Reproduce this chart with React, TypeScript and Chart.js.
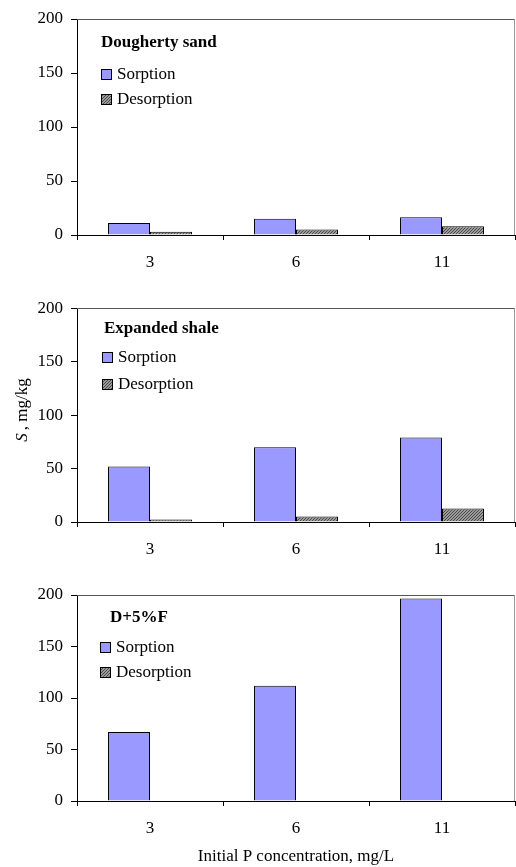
import React, { useEffect, useRef } from "react";
import { Chart, registerables } from "chart.js";

Chart.register(...registerables);

// ---- data ----
const categories = ["3", "6", "11"];
const seriesNames = ["Sorption", "Desorption"];
const panelTitles = ["Dougherty sand", "Expanded shale", "D+5%F"];
const sandSorption = [11, 15, 16.5];
const sandDesorption = [3, 5.2, 8];
const shaleSorption = [52, 70, 79];
const shaleDesorption = [2.4, 5.2, 12.6];
const mixSorption = [67, 112, 196.5];
const mixDesorption = [0, 0, 0];
const yMin = 0;
const yMax = 200;
const yStep = 50;
const yTitleItalic = "S";
const yTitleRest = ", mg/kg";
const xTitle = "Initial P concentration, mg/L";

const FONT = "'Liberation Serif', 'Times New Roman', serif";
const FS = 17;
const SORPTION_COLOR = "#9999FF";

function makeHatch(): CanvasPattern | string {
  const c = document.createElement("canvas");
  c.width = 3;
  c.height = 3;
  const g = c.getContext("2d");
  if (!g) return "#888";
  g.fillStyle = "#9a9a9a";
  g.fillRect(0, 0, 3, 3);
  g.fillStyle = "#4a4a4a";
  for (let i = 0; i < 3; i++) {
    g.fillRect(2 - i, i, 1, 1);
  }
  const p = g.createPattern(c, "repeat");
  return p || "#888";
}

type PanelSpec = {
  top: number;
  height: number;
  padTop: number;
  xAxisHeight: number;
  title: string;
  sorption: number[];
  desorption: number[];
  titleX: number;
  titleDy: number;
  boxX: number;
  rowDy: number[];
  showYTitle: boolean;
  showXTitle: boolean;
};

const panels: PanelSpec[] = [
  {
    top: 0, height: 280, padTop: 19, xAxisHeight: 45,
    title: panelTitles[0], sorption: sandSorption, desorption: sandDesorption,
    titleX: 101, titleDy: 24, boxX: 101, rowDy: [55, 80],
    showYTitle: false, showXTitle: false,
  },
  {
    top: 290, height: 280, padTop: 17, xAxisHeight: 48,
    title: panelTitles[1], sorption: shaleSorption, desorption: shaleDesorption,
    titleX: 104, titleDy: 20, boxX: 102, rowDy: [48.7, 75.3],
    showYTitle: true, showXTitle: false,
  },
  {
    top: 570, height: 297, padTop: 25, xAxisHeight: 66,
    title: panelTitles[2], sorption: mixSorption, desorption: mixDesorption,
    titleX: 110, titleDy: 22.7, boxX: 100, rowDy: [51.7, 76.7],
    showYTitle: false, showXTitle: true,
  },
];

function Panel({ spec }: { spec: PanelSpec }) {
  const ref = useRef<HTMLCanvasElement | null>(null);
  useEffect(() => {
    const canvas = ref.current;
    if (!canvas) return;
    const hatch = makeHatch();
    const fills = [SORPTION_COLOR, hatch];

    const framePlugin = {
      id: "frameAndLegend",
      afterDraw(chart: any) {
        const ctx = chart.ctx as CanvasRenderingContext2D;
        const a = chart.chartArea;
        ctx.save();
        // top & right plot border
        ctx.lineWidth = 1;
        ctx.strokeStyle = "#555";
        ctx.beginPath();
        ctx.moveTo(a.left, Math.round(a.top) + 0.5);
        ctx.lineTo(a.right, Math.round(a.top) + 0.5);
        ctx.stroke();
        ctx.strokeStyle = "#999";
        ctx.beginPath();
        ctx.moveTo(Math.round(a.right) - 0.5, a.top);
        ctx.lineTo(Math.round(a.right) - 0.5, a.bottom);
        ctx.stroke();

        // inner title
        ctx.fillStyle = "#000";
        ctx.textBaseline = "middle";
        ctx.textAlign = "left";
        ctx.font = `bold ${FS}px ${FONT}`;
        ctx.fillText(spec.title, spec.titleX, a.top + spec.titleDy);

        // inner legend
        ctx.font = `${FS}px ${FONT}`;
        chart.data.datasets.forEach((ds: any, i: number) => {
          const cy = Math.round(a.top + spec.rowDy[i]);
          const bx = spec.boxX;
          ctx.fillStyle = fills[i] as any;
          ctx.fillRect(bx, cy - 5, 11, 11);
          ctx.strokeStyle = "#000";
          ctx.strokeRect(bx + 0.5, cy - 4.5, 10, 10);
          ctx.fillStyle = "#000";
          ctx.fillText(ds.label, bx + 16, cy + 0.5);
        });

        if (spec.showYTitle) {
          ctx.save();
          ctx.translate(23, 410 - spec.top);
          ctx.rotate(-Math.PI / 2);
          ctx.font = `italic ${FS}px ${FONT}`;
          const w1 = ctx.measureText(yTitleItalic).width + 3;
          ctx.font = `${FS}px ${FONT}`;
          const w2 = ctx.measureText(yTitleRest).width;
          const start = -(w1 + w2) / 2;
          ctx.textAlign = "left";
          ctx.font = `italic ${FS}px ${FONT}`;
          ctx.fillText(yTitleItalic, start, 0);
          ctx.font = `${FS}px ${FONT}`;
          ctx.fillText(yTitleRest, start + w1, 0);
          ctx.restore();
        }
        ctx.restore();
      },
    };

    const chart = new Chart(canvas, {
      type: "bar",
      data: {
        labels: categories,
        datasets: [
          {
            label: seriesNames[0],
            data: spec.sorption,
            backgroundColor: SORPTION_COLOR,
            borderColor: "#000",
            borderWidth: 1,
            borderSkipped: "start",
            barPercentage: 1,
            categoryPercentage: 0.575,
          },
          {
            label: seriesNames[1],
            data: spec.desorption,
            backgroundColor: hatch as any,
            borderColor: "#000",
            borderWidth: 1,
            borderSkipped: "start",
            barPercentage: 1,
            categoryPercentage: 0.575,
          },
        ],
      },
      options: {
        responsive: false,
        animation: false,
        events: [],
        layout: { padding: { top: spec.padTop, right: 1, left: 0, bottom: 0 } },
        plugins: {
          legend: { display: false },
          tooltip: { enabled: false },
          title: { display: false },
        },
        scales: {
          x: {
            grid: {
              display: true,
              drawOnChartArea: false,
              drawTicks: true,
              tickLength: 5,
              color: "#000",
              offset: true,
            },
            border: { display: true, color: "#000", width: 1 },
            ticks: {
              color: "#000",
              font: { family: FONT, size: FS },
              padding: 12,
              maxRotation: 0,
            },
            title: {
              display: spec.showXTitle,
              text: xTitle,
              color: "#000",
              font: { family: FONT, size: FS },
              padding: { top: 0, bottom: 0 },
            },
            afterFit: (s: any) => {
              s.height = spec.xAxisHeight;
            },
          },
          y: {
            min: yMin,
            max: yMax,
            grid: {
              display: true,
              drawOnChartArea: false,
              drawTicks: true,
              tickLength: 6,
              color: "#000",
            },
            border: { display: true, color: "#000", width: 1 },
            ticks: {
              stepSize: yStep,
              color: "#000",
              font: { family: FONT, size: FS },
              padding: 8,
            },
            afterFit: (s: any) => {
              s.width = 77;
            },
          },
        },
      },
      plugins: [framePlugin],
    } as any);
    return () => chart.destroy();
  }, [spec]);

  return (
    <canvas
      ref={ref}
      width={516}
      height={spec.height}
      style={{ position: "absolute", left: 0, top: spec.top, width: 516, height: spec.height }}
    />
  );
}

export default function App() {
  return (
    <div
      style={{
        position: "absolute",
        left: 0,
        top: 0,
        width: 516,
        height: 867,
        background: "#fff",
        overflow: "hidden",
      }}
    >
      {panels.map((p, i) => (
        <Panel key={i} spec={p} />
      ))}
    </div>
  );
}
